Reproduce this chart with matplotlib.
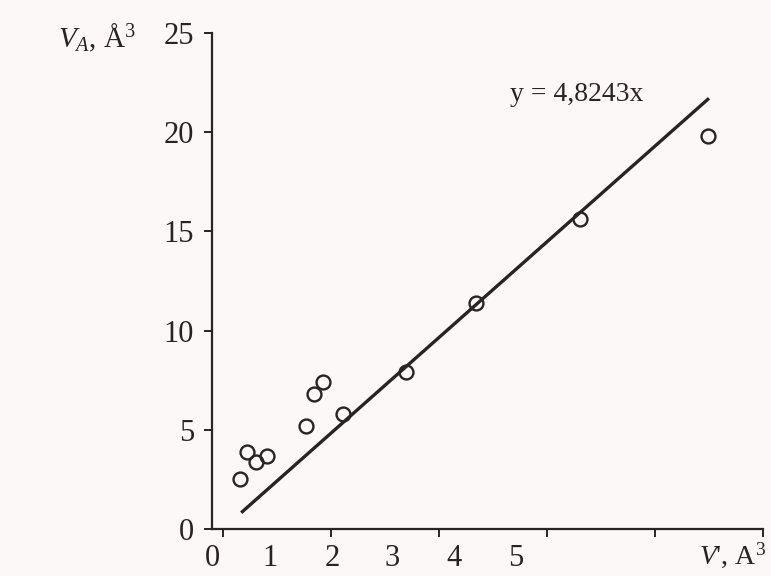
import numpy as np
import matplotlib.pyplot as plt

plt.rcParams['font.family'] = ['Liberation Serif', 'DejaVu Serif']
plt.rcParams['mathtext.fontset'] = 'custom'
plt.rcParams['mathtext.rm'] = 'Liberation Serif'
plt.rcParams['mathtext.it'] = 'Liberation Serif:italic'

# measured points (V', V_A)
v_prime = [0.16, 0.22, 0.31, 0.41, 0.77, 0.84, 0.93, 1.11, 1.70, 2.34, 3.31, 4.49]
v_a = [2.5, 3.9, 3.4, 3.7, 5.2, 6.8, 7.4, 5.8, 7.9, 11.4, 15.6, 19.8]

# fitted line y = k x
k = 4.8243
fit_x = [0.17, 4.5]

# x tick labels as printed (shifted from tick marks in the original)
xlabel_pos = [-0.10, 0.44, 1.01, 1.57, 2.14, 2.71]
xlabel_txt = ['0', '1', '2', '3', '4', '5']
yticks = [0, 5, 10, 15, 20, 25]

ink = '#2b2322'
bg = '#fcf8f7'

fig = plt.figure(figsize=(7.71, 5.76), dpi=100, facecolor=bg)
ax = fig.add_axes([212/771, 1-529/576, (763-212)/771, (529-33)/576])
ax.set_facecolor(bg)

fx = np.array(fit_x)
ax.plot(fx, k*fx, color=ink, lw=2.4, solid_capstyle='butt')
ax.plot(v_prime, v_a, 'o', mfc='none', mec=ink, mew=1.7, ms=10)

ax.set_xlim(0, 5)
ax.set_ylim(0, 25)
for s in ['top', 'right']:
    ax.spines[s].set_visible(False)
for s in ['left', 'bottom']:
    ax.spines[s].set_color(ink)
    ax.spines[s].set_linewidth(1.6)

ax.set_yticks(yticks)
ax.tick_params(axis='y', direction='out', length=6, width=1.4, color=ink,
               labelsize=22, labelcolor=ink, pad=7)
ax.set_xticks([0, 1, 2, 3, 4, 5])
ax.set_xticklabels([])
ax.tick_params(axis='x', which='major', direction='out', length=6, width=1.4, color=ink)
ax.set_xticks(xlabel_pos, minor=True)
ax.set_xticklabels(xlabel_txt, minor=True)
ax.tick_params(axis='x', which='minor', length=0, labelsize=22, labelcolor=ink, pad=11)

ax.text(3.28, 21.9, 'y = 4,8243x', ha='center', va='center', fontsize=20, color=ink)

fig.text(58/771, 1-38/576, r'$V_A$, Å$^3$', ha='left', va='center', fontsize=21, color=ink)
fig.text(766/771, 1-555/576, r"$V$', A$^3$", ha='right', va='center', fontsize=20, color=ink)

fig.savefig('out.png', dpi=100, facecolor=bg)
